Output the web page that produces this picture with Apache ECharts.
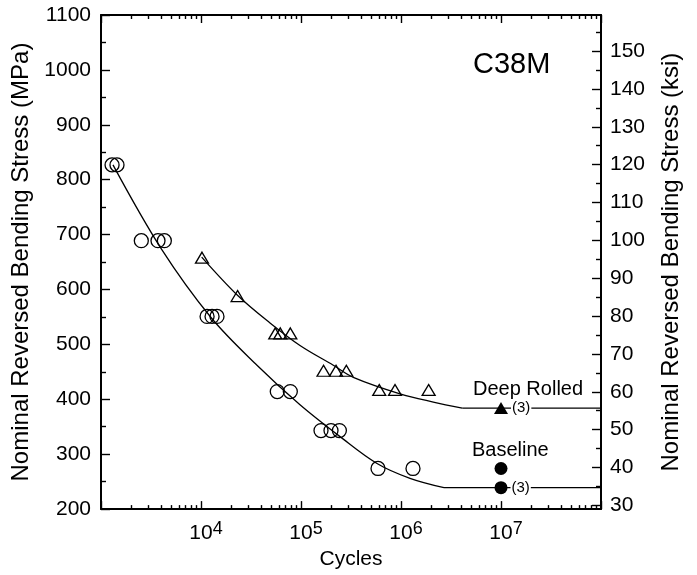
<!DOCTYPE html>
<html><head><meta charset="utf-8">
<script src="https://cdn.jsdelivr.net/npm/echarts@6/dist/echarts.min.js"></script>
<style>html,body{margin:0;padding:0;background:#fff}#c{width:697px;height:575px}</style>
</head><body><div id="c"></div>
<script>
const FONT = '"Liberation Sans", Arial, Helvetica, sans-serif';
const MPA_PER_KSI = 6.894757;

// Axis ranges and ticks
const xMin = 1e3, xMax = 1e8;
const xMajorTicks = [1e3, 1e4, 1e5, 1e6, 1e7, 1e8];
const xLabelTicks = [1e4, 1e5, 1e6, 1e7];
const xMinorMultipliers = [2, 3, 4, 5, 6, 7, 8, 9];
const xDecades = [1e3, 1e4, 1e5, 1e6, 1e7];
const yMinMPa = 200, yMaxMPa = 1100, yStepMPa = 100;
const ksiMajorTicks = [30, 40, 50, 60, 70, 80, 90, 100, 110, 120, 130, 140, 150];
const ksiMinorTicks = [35, 45, 55, 65, 75, 85, 95, 105, 115, 125, 135, 145, 155];

// Baseline (open circles)
const baselineN = [1290, 1445, 2530, 3715, 4300, 11500, 12900, 14450, 57900, 78200, 158500, 199500, 242000, 589000, 1318000];
const baselineS = [827, 827, 689, 689, 689, 551, 551, 551, 414, 414, 343, 343, 343, 274, 274];
// Baseline run-outs (filled circles)
const baselineRunN = [1e7, 1e7];
const baselineRunS = [274, 239];
const baselineRunTag = ['', '(3)'];
// Baseline fit curve
const baselineFitN = [1318, 3981, 12590, 36300, 97700, 245500, 575400, 1230000, 2690000];
const baselineFitS = [827, 675, 549, 462, 390, 332, 283, 256, 239];
const baselineFlatN = [2690000, 1e8];
const baselineFlatS = [239, 239];

// Deep rolled (open triangles)
const deepN = [10230, 23230, 55300, 62100, 78200, 168000, 224000, 284000, 606000, 871000, 1890000];
const deepS = [658, 588, 520, 520, 520, 452, 452, 452, 417, 417, 417];
// Deep rolled run-out (filled triangle)
const deepRunN = [1e7];
const deepRunS = [384];
const deepRunTag = ['(3)'];
// Deep rolled fit curve
const deepFitN = [10160, 23600, 48980, 97700, 210400, 333400, 977000, 2104000, 4100000];
const deepFitS = [659, 588, 539, 498, 462, 440, 410, 395, 384];
const deepFlatN = [4100000, 1e8];
const deepFlatS = [384, 384];

const xMinorTicks = [];
xDecades.forEach(d => xMinorMultipliers.forEach(m => xMinorTicks.push(d * m)));
const zip = (a, b) => a.map((v, i) => [v, b[i]]);

const chart = echarts.init(document.getElementById('c'), null, { renderer: 'canvas' });
const black = '#000';
const axisLineStyle = { color: black, width: 2 };
const tickLine = { color: black, width: 1.4 };

function xAxisDef(pos, major, withLabel) {
  return {
    type: 'log', logBase: 10, min: xMin, max: xMax, position: pos, gridIndex: 0,
    name: withLabel ? 'Cycles' : '', nameLocation: 'middle', nameGap: 35,
    nameTextStyle: { fontSize: 21, color: black, fontFamily: FONT },
    axisLine: { show: major, onZero: false, lineStyle: axisLineStyle },
    axisTick: { show: true, inside: true, length: major ? 8 : 4, lineStyle: tickLine,
      customValues: major ? xMajorTicks : xMinorTicks },
    axisLabel: withLabel ? {
      show: true, customValues: xLabelTicks, margin: 11, padding: [0, 0, 0, 10],
      formatter: v => '{b|10}{s|' + Math.round(Math.log10(v)) + '}',
      rich: {
        b: { fontSize: 21, lineHeight: 24, verticalAlign: 'bottom', color: black, fontFamily: FONT },
        s: { fontSize: 18, lineHeight: 18, verticalAlign: 'top', color: black, fontFamily: FONT }
      }
    } : { show: false },
    splitLine: { show: false }, minorTick: { show: false }, minorSplitLine: { show: false }
  };
}

const option = {
  animation: false,
  backgroundColor: '#fff',
  textStyle: { fontFamily: FONT },
  grid: { left: 101, right: 96, top: 15, bottom: 62, containLabel: false },
  xAxis: [
    xAxisDef('bottom', true, true),
    xAxisDef('bottom', false, false),
    xAxisDef('top', true, false),
    xAxisDef('top', false, false)
  ],
  yAxis: [
    {
      type: 'value', min: yMinMPa, max: yMaxMPa, interval: yStepMPa, position: 'left',
      name: 'Nominal Reversed Bending Stress (MPa)', nameLocation: 'middle', nameGap: 61, nameRotate: 90,
      nameTextStyle: { fontSize: 24, color: black, fontFamily: FONT },
      axisLine: { show: true, onZero: false, lineStyle: axisLineStyle },
      axisTick: { show: true, inside: true, length: 9, lineStyle: tickLine },
      minorTick: { show: true, splitNumber: 2, length: 5, lineStyle: tickLine },
      axisLabel: { fontSize: 21, margin: 10, color: black, fontFamily: FONT, formatter: v => String(v) },
      splitLine: { show: false }
    },
    {
      type: 'value', min: yMinMPa / MPA_PER_KSI, max: yMaxMPa / MPA_PER_KSI, position: 'right',
      name: 'Nominal Reversed Bending Stress (ksi)', nameLocation: 'middle', nameGap: 58, nameRotate: 90,
      nameTextStyle: { fontSize: 24, color: black, fontFamily: FONT },
      axisLine: { show: true, onZero: false, lineStyle: axisLineStyle },
      axisTick: { show: true, inside: true, length: 9, lineStyle: tickLine, customValues: ksiMajorTicks },
      axisLabel: { show: true, customValues: ksiMajorTicks, fontSize: 21, margin: 9, color: black, fontFamily: FONT,
        formatter: v => String(Math.round(v)) },
      splitLine: { show: false }
    },
    {
      type: 'value', min: yMinMPa / MPA_PER_KSI, max: yMaxMPa / MPA_PER_KSI, position: 'right',
      axisLine: { show: false },
      axisTick: { show: true, inside: true, length: 5, lineStyle: tickLine, customValues: ksiMinorTicks },
      axisLabel: { show: false },
      splitLine: { show: false }
    }
  ],
  graphic: [
    { type: 'text', left: 473, top: 50, silent: true,
      style: { text: 'C38M', fontSize: 29, fill: black, fontFamily: FONT } },
    { type: 'text', left: 473, top: 379, silent: true,
      style: { text: 'Deep Rolled', fontSize: 20, fill: black, fontFamily: FONT } },
    { type: 'text', left: 472, top: 440, silent: true,
      style: { text: 'Baseline', fontSize: 20, fill: black, fontFamily: FONT } }
  ],
  series: [
    { type: 'line', name: 'baselineFit', data: zip(baselineFitN, baselineFitS), smooth: 0.35,
      showSymbol: false, silent: true, z: 2, lineStyle: { color: black, width: 1.3 } },
    { type: 'line', name: 'baselineFlat', data: zip(baselineFlatN, baselineFlatS),
      showSymbol: false, silent: true, z: 2, lineStyle: { color: black, width: 1.3 } },
    { type: 'line', name: 'deepFit', data: zip(deepFitN, deepFitS), smooth: 0.35,
      showSymbol: false, silent: true, z: 2, lineStyle: { color: black, width: 1.3 } },
    { type: 'line', name: 'deepFlat', data: zip(deepFlatN, deepFlatS),
      showSymbol: false, silent: true, z: 2, lineStyle: { color: black, width: 1.3 } },
    { type: 'scatter', name: 'Baseline', data: zip(baselineN, baselineS), symbol: 'circle', symbolSize: 14,
      z: 3, silent: true,
      itemStyle: { color: 'rgba(0,0,0,0)', borderColor: black, borderWidth: 1.3, opacity: 1 } },
    { type: 'scatter', name: 'Deep Rolled', data: zip(deepN, deepS), symbol: 'triangle', symbolSize: [13, 11],
      z: 3, silent: true,
      itemStyle: { color: 'rgba(0,0,0,0)', borderColor: black, borderWidth: 1.3, opacity: 1 } },
    { type: 'scatter', name: 'Baseline run-out', symbol: 'circle', symbolSize: 13, z: 4, silent: true,
      data: baselineRunN.map((n, i) => ({ value: [n, baselineRunS[i]], tag: baselineRunTag[i],
        label: { show: baselineRunTag[i] !== '' } })),
      itemStyle: { color: black, opacity: 1 },
      label: { position: 'right', distance: 3, fontSize: 15, color: black, fontFamily: FONT,
        backgroundColor: '#fff', padding: [0, 1], formatter: p => p.data.tag } },
    { type: 'scatter', name: 'Deep rolled run-out', symbol: 'triangle', symbolSize: [14, 12], z: 4, silent: true,
      data: deepRunN.map((n, i) => ({ value: [n, deepRunS[i]], tag: deepRunTag[i],
        label: { show: deepRunTag[i] !== '' } })),
      itemStyle: { color: black, opacity: 1 },
      label: { position: 'right', distance: 3, fontSize: 15, color: black, fontFamily: FONT,
        backgroundColor: '#fff', padding: [0, 1], formatter: p => p.data.tag } }
  ]
};
chart.setOption(option);
</script>
</body></html>
